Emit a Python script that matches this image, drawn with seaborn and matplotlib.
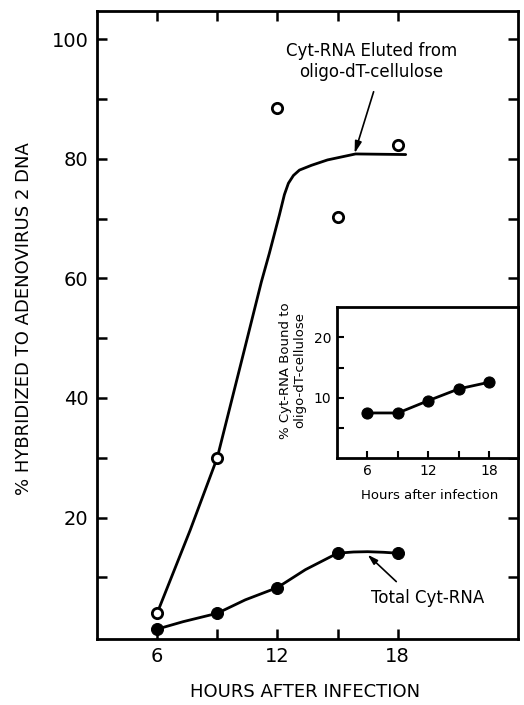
import numpy as np
import pandas as pd
import matplotlib.pyplot as plt
import seaborn as sns

# data
hours = [6, 9, 12, 15, 18]
eluted = [4.0, 30.0, 88.4, 70.2, 82.3]      # open circles
total = [1.35, 4.0, 8.3, 14.05, 14.05]      # filled circles
bound = [7.5, 7.5, 9.55, 11.5, 12.6]        # inset

# hand drawn fit curves (traced)
eluted_fit_x = [6, 7.65, 9, 10.35, 11.2, 11.6, 12.1, 12.35, 12.55, 12.8, 13.1, 13.7, 14.5, 15.9, 18.4]
eluted_fit_y = [4, 17.9, 30, 48, 59.4, 64.2, 70.6, 74.0, 75.9, 77.2, 78.1, 78.9, 79.8, 80.8, 80.7]
total_fit_x = [6, 7.3, 9, 10.4, 12, 13.4, 15, 15.8, 16.5, 17.3, 18]
total_fit_y = [1.35, 2.6, 4.0, 6.25, 8.3, 11.3, 14.05, 14.25, 14.3, 14.2, 14.05]

sns.set_style('ticks')
plt.rcParams['font.family'] = ['DejaVu Sans']
plt.rcParams.update({'text.color': 'black', 'axes.labelcolor': 'black',
                     'xtick.color': 'black', 'ytick.color': 'black',
                     'axes.edgecolor': 'black'})

fig = plt.figure(figsize=(5.24, 7.05), dpi=100)
ax = fig.add_axes([0.185, 0.0936, 0.8035, 0.8908])

sns.lineplot(x=eluted_fit_x, y=eluted_fit_y, ax=ax, color='black', lw=2.0, sort=False)
sns.lineplot(x=total_fit_x, y=total_fit_y, ax=ax, color='black', lw=2.0, sort=False)
sns.scatterplot(x=hours, y=eluted, ax=ax, s=55, marker='o', facecolor='white',
                edgecolor='black', linewidth=2.0, zorder=5)
sns.scatterplot(x=hours, y=total, ax=ax, s=75, marker='o', color='black',
                edgecolor='black', zorder=5)

ax.set_xlim(3, 24)
ax.set_ylim(-0.3, 104.7)
ax.set_xticks([6, 9, 12, 15, 18])
ax.set_xticklabels(['6', '', '12', '', '18'])
ax.set_yticks(range(10, 101, 10))
ax.set_yticklabels(['', '20', '', '40', '', '60', '', '80', '', '100'])
ax.tick_params(direction='in', length=7, width=1.8, top=True, right=True,
               labelsize=14, pad=6)
for s in ax.spines.values():
    s.set_linewidth(2.0)
    s.set_visible(True)

ax.set_ylabel('% HYBRIDIZED TO ADENOVIRUS 2 DNA', fontsize=13)
ax.yaxis.set_label_coords(-0.153, 0.51)
ax.set_xlabel('HOURS AFTER INFECTION', fontsize=13)
ax.xaxis.set_label_coords(0.494, -0.07)

ax.text(16.7, 96.2, 'Cyt-RNA Eluted from\noligo-dT-cellulose', ha='center',
        va='center', fontsize=12, linespacing=1.2)
ax.annotate('', xy=(15.85, 80.9), xytext=(16.8, 91.2),
            arrowprops=dict(arrowstyle='-|>,head_length=0.7,head_width=0.2',
                            color='black', lw=1.2, shrinkA=0, shrinkB=0))
ax.text(19.5, 6.6, 'Total Cyt-RNA', ha='center', va='center', fontsize=12)
ax.annotate('', xy=(16.5, 13.8), xytext=(17.93, 9.3),
            arrowprops=dict(arrowstyle='-|>,head_length=0.6,head_width=0.18',
                            color='black', lw=1.2, shrinkA=0, shrinkB=0))

# inset
ins = fig.add_axes([0.643, 0.35, 0.3455, 0.215])
ins.set_facecolor('white')
sns.lineplot(x=hours, y=bound, ax=ins, color='black', lw=2.0, marker='o',
             markersize=8, markeredgecolor='black')
ins.set_xlim(3, 20.8)
ins.set_ylim(0, 25.1)
ins.set_xticks([6, 9, 12, 15, 18])
ins.set_xticklabels(['6', '', '12', '', '18'])
ins.set_yticks([5, 10, 15, 20])
ins.set_yticklabels(['', '10', '', '20'])
ins.tick_params(direction='in', length=5, width=1.5, labelsize=10, pad=4)
for s in ins.spines.values():
    s.set_linewidth(2.0)
    s.set_visible(True)
ins.set_ylabel('% Cyt-RNA Bound to\noligo-dT-cellulose', fontsize=9.5,
               linespacing=1.1)
ins.yaxis.set_label_coords(-0.17, 0.58)
ins.set_xlabel('Hours after infection', fontsize=9.5)
ins.xaxis.set_label_coords(0.51, -0.2)

fig.savefig('out.png', dpi=100)
